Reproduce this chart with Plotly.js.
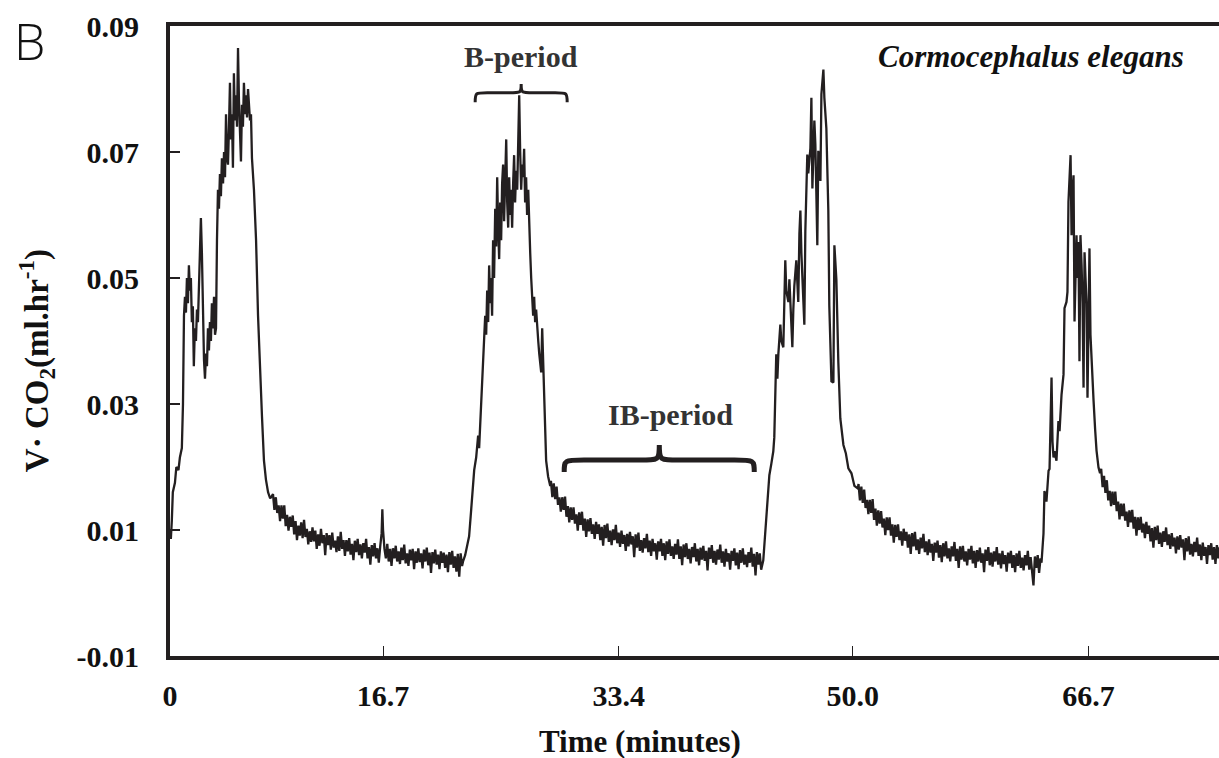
<!DOCTYPE html>
<html>
<head>
<meta charset="utf-8">
<script src="https://cdn.plot.ly/plotly-3.0.1.min.js"></script>
<style>
html,body{margin:0;padding:0;background:#fff;}
#chart{width:1219px;height:758px;}
</style>
</head>
<body>
<div id="chart"></div>
<script>
// ---- Data (time in minutes, VCO2 in ml/hr) ----
// Burst 1
const t_burst1 = [1.60,1.66,1.73,1.80,1.95,2.05,2.20,2.30,2.44,2.52,2.59,2.66,2.73,2.80,2.87,2.94,3.01,3.08,3.15,3.22,3.29,3.36,3.44,3.51,3.58,3.65,3.72,3.79,3.86,3.93,4.01,4.08,4.15,4.22,4.29,4.36,4.43,4.50,4.57,4.64,4.72,4.79,4.86,4.93,5.00,5.07,5.14,5.21,5.28,5.36,5.43,5.50,5.57,5.64,5.71,5.78,5.85,5.92,5.99,6.06,6.13,6.20,6.28,6.35,6.42,6.49,6.56,6.63,6.70,6.77,6.84,6.92,6.99,7.06,7.13,7.20,7.27,7.34,7.41,7.55,7.70,7.84,7.98,8.12,8.26,8.40,8.55,8.70];
const v_burst1 = [0.0100,0.0086,0.0115,0.0160,0.0175,0.0200,0.0195,0.0215,0.0230,0.0300,0.0440,0.0470,0.0445,0.0500,0.0460,0.0520,0.0480,0.0500,0.0430,0.0455,0.0360,0.0420,0.0400,0.0450,0.0430,0.0480,0.0540,0.0595,0.0540,0.0430,0.0370,0.0340,0.0380,0.0360,0.0420,0.0385,0.0430,0.0400,0.0460,0.0420,0.0470,0.0410,0.0420,0.0560,0.0640,0.0610,0.0665,0.0630,0.0690,0.0650,0.0700,0.0660,0.0760,0.0690,0.0680,0.0740,0.0810,0.0720,0.0760,0.0675,0.0825,0.0750,0.0790,0.0740,0.0865,0.0780,0.0740,0.0685,0.0775,0.0740,0.0810,0.0760,0.0790,0.0755,0.0800,0.0770,0.0750,0.0760,0.0690,0.0640,0.0560,0.0440,0.0350,0.0280,0.0210,0.0180,0.0160,0.0150];
// Inter-burst 1
const t_inter1 = [8.9,9.0,9.1,9.2,9.3,9.4,9.5,9.6,9.7,9.8,9.9,10.0,10.1,10.2,10.3,10.4,10.5,10.6,10.7,10.8,10.9,11.0,11.1,11.2,11.3,11.4,11.5,11.6,11.7,11.8,11.9,12.0,12.1,12.2,12.3,12.4,12.5,12.6,12.7,12.8,12.9,13.0,13.1,13.2,13.3,13.4,13.5,13.6,13.7,13.8,13.9,14.0,14.1,14.2,14.3,14.4,14.5,14.6,14.7,14.8,14.9,15.0,15.1,15.2,15.3,15.4,15.5,15.6,15.7,15.8,15.9,16.0,16.1,16.2,16.3,16.4,16.5,16.6,16.65,16.7,16.8,16.9,17.0,17.1,17.2,17.3,17.4,17.5,17.6,17.7,17.8,17.9,18.0,18.1,18.2,18.3,18.4,18.5,18.6,18.7,18.8,18.9,19.0,19.1,19.2,19.3,19.4,19.5,19.6,19.7,19.8,19.9,20.0,20.1,20.2,20.3,20.4,20.5,20.6,20.7,20.8,20.9,21.0,21.1,21.2,21.3,21.4,21.5,21.6,21.7,21.8,21.9,22.0,22.1,22.2,22.3];
const v_inter1 = [0.0157,0.0132,0.0152,0.0127,0.0139,0.0114,0.0139,0.0118,0.0139,0.0106,0.0124,0.0099,0.0121,0.0105,0.0123,0.0093,0.0114,0.0084,0.0107,0.0091,0.0112,0.0087,0.0116,0.0089,0.0102,0.0077,0.0098,0.0081,0.0104,0.0082,0.0099,0.0070,0.0093,0.0075,0.0102,0.0079,0.0092,0.0060,0.0095,0.0076,0.0092,0.0069,0.0096,0.0072,0.0083,0.0065,0.0090,0.0067,0.0097,0.0070,0.0084,0.0059,0.0084,0.0066,0.0087,0.0061,0.0078,0.0052,0.0083,0.0065,0.0086,0.0060,0.0077,0.0055,0.0079,0.0064,0.0086,0.0055,0.0073,0.0045,0.0076,0.0058,0.0079,0.0055,0.0071,0.0048,0.0074,0.0095,0.0133,0.0100,0.0070,0.0055,0.0078,0.0050,0.0070,0.0043,0.0071,0.0055,0.0075,0.0050,0.0066,0.0046,0.0072,0.0052,0.0077,0.0047,0.0063,0.0043,0.0069,0.0052,0.0070,0.0038,0.0066,0.0048,0.0071,0.0049,0.0063,0.0039,0.0069,0.0050,0.0072,0.0044,0.0064,0.0032,0.0065,0.0047,0.0069,0.0045,0.0061,0.0038,0.0066,0.0048,0.0064,0.0040,0.0061,0.0033,0.0065,0.0045,0.0067,0.0040,0.0058,0.0034,0.0062,0.0026,0.0063,0.0043];
// Burst 2
const t_burst2 = [22.37,22.52,22.66,22.80,22.94,23.09,23.16,23.30,23.44,23.51,23.65,23.79,23.94,24.01,24.08,24.15,24.22,24.29,24.36,24.43,24.50,24.57,24.65,24.72,24.79,24.86,24.93,25.00,25.07,25.14,25.21,25.28,25.35,25.43,25.50,25.57,25.64,25.71,25.78,25.85,25.92,25.99,26.06,26.13,26.21,26.28,26.35,26.42,26.49,26.56,26.63,26.70,26.77,26.84,26.91,26.99,27.06,27.13,27.20,27.27,27.34,27.41,27.48,27.55,27.62,27.70,27.77,27.84,27.91,27.98,28.05,28.12,28.19,28.26,28.40,28.55];
const v_burst2 = [0.0050,0.0060,0.0075,0.0090,0.0130,0.0170,0.0195,0.0215,0.0250,0.0230,0.0300,0.0380,0.0440,0.0410,0.0480,0.0430,0.0520,0.0460,0.0500,0.0440,0.0560,0.0500,0.0610,0.0550,0.0660,0.0580,0.0530,0.0620,0.0560,0.0650,0.0680,0.0590,0.0640,0.0720,0.0620,0.0580,0.0660,0.0600,0.0640,0.0580,0.0650,0.0695,0.0620,0.0670,0.0640,0.0720,0.0790,0.0700,0.0640,0.0680,0.0660,0.0705,0.0620,0.0660,0.0600,0.0640,0.0570,0.0540,0.0500,0.0470,0.0440,0.0470,0.0430,0.0450,0.0420,0.0400,0.0380,0.0360,0.0350,0.0420,0.0370,0.0300,0.0250,0.0210,0.0185,0.0170];
// Inter-burst 2
const t_inter2 = [28.6,28.7,28.8,28.9,29.0,29.1,29.2,29.3,29.4,29.5,29.6,29.7,29.8,29.9,30.0,30.1,30.2,30.3,30.4,30.5,30.6,30.7,30.8,30.9,31.0,31.1,31.2,31.3,31.4,31.5,31.6,31.7,31.8,31.9,32.0,32.1,32.2,32.3,32.4,32.5,32.6,32.7,32.8,32.9,33.0,33.1,33.2,33.3,33.4,33.5,33.6,33.7,33.8,33.9,34.0,34.1,34.2,34.3,34.4,34.5,34.6,34.7,34.8,34.9,35.0,35.1,35.2,35.3,35.4,35.5,35.6,35.7,35.8,35.9,36.0,36.1,36.2,36.3,36.4,36.5,36.6,36.7,36.8,36.9,37.0,37.1,37.2,37.3,37.4,37.5,37.6,37.7,37.8,37.9,38.0,38.1,38.2,38.3,38.4,38.5,38.6,38.7,38.8,38.9,39.0,39.1,39.2,39.3,39.4,39.5,39.6,39.7,39.8,39.9,40.0,40.1,40.2,40.3,40.4,40.5,40.6,40.7,40.8,40.9,41.0,41.1,41.2,41.3,41.4,41.5,41.6,41.7,41.8,41.9,42.0,42.1,42.2,42.3,42.4,42.5,42.6,42.7,42.8,42.9,43.0,43.1,43.2,43.3,43.4,43.5];
const v_inter2 = [0.0178,0.0152,0.0174,0.0149,0.0169,0.0140,0.0152,0.0129,0.0152,0.0132,0.0153,0.0121,0.0138,0.0112,0.0136,0.0116,0.0136,0.0110,0.0125,0.0099,0.0128,0.0108,0.0129,0.0099,0.0118,0.0089,0.0117,0.0098,0.0119,0.0094,0.0109,0.0086,0.0113,0.0094,0.0109,0.0084,0.0105,0.0075,0.0108,0.0087,0.0110,0.0081,0.0099,0.0076,0.0101,0.0084,0.0108,0.0079,0.0096,0.0073,0.0099,0.0078,0.0092,0.0067,0.0094,0.0074,0.0097,0.0077,0.0090,0.0057,0.0093,0.0072,0.0096,0.0067,0.0084,0.0064,0.0087,0.0071,0.0094,0.0065,0.0083,0.0059,0.0086,0.0066,0.0079,0.0053,0.0082,0.0066,0.0086,0.0059,0.0079,0.0052,0.0082,0.0062,0.0085,0.0059,0.0074,0.0054,0.0078,0.0061,0.0085,0.0054,0.0074,0.0044,0.0077,0.0057,0.0079,0.0054,0.0070,0.0047,0.0073,0.0057,0.0079,0.0050,0.0070,0.0044,0.0072,0.0053,0.0075,0.0051,0.0067,0.0036,0.0072,0.0054,0.0076,0.0048,0.0067,0.0045,0.0069,0.0053,0.0077,0.0048,0.0066,0.0042,0.0070,0.0050,0.0063,0.0037,0.0067,0.0051,0.0071,0.0044,0.0064,0.0038,0.0068,0.0048,0.0071,0.0045,0.0061,0.0041,0.0065,0.0048,0.0072,0.0042,0.0062,0.0028,0.0065,0.0045,0.0063,0.0037];
// Burst 3
const t_burst3 = [43.65,43.87,44.08,44.22,44.36,44.43,44.50,44.57,44.65,44.72,44.86,44.93,45.07,45.14,45.21,45.28,45.43,45.50,45.57,45.71,45.78,45.85,45.99,46.13,46.21,46.28,46.35,46.42,46.56,46.63,46.77,46.84,46.99,47.06,47.13,47.27,47.34,47.41,47.48,47.55,47.70,47.77,47.91,47.98,48.12,48.26,48.33,48.48,48.62,48.69,48.83,48.97,49.11,49.33,49.50,49.68,49.90,50.11,50.35];
const v_burst3 = [0.0052,0.0128,0.0187,0.0205,0.0225,0.0247,0.0330,0.0379,0.0340,0.0380,0.0426,0.0400,0.0390,0.0450,0.0528,0.0480,0.0462,0.0498,0.0450,0.0390,0.0450,0.0487,0.0528,0.0462,0.0570,0.0607,0.0540,0.0498,0.0426,0.0574,0.0696,0.0666,0.0706,0.0786,0.0642,0.0750,0.0713,0.0636,0.0552,0.0702,0.0654,0.0792,0.0831,0.0786,0.0738,0.0607,0.0456,0.0336,0.0334,0.0552,0.0498,0.0366,0.0277,0.0235,0.0222,0.0198,0.0190,0.0170,0.0166];
// Inter-burst 3
const t_inter3 = [50.4,50.5,50.6,50.7,50.8,50.9,51.0,51.1,51.2,51.3,51.4,51.5,51.6,51.7,51.8,51.9,52.0,52.1,52.2,52.3,52.4,52.5,52.6,52.7,52.8,52.9,53.0,53.1,53.2,53.3,53.4,53.5,53.6,53.7,53.8,53.9,54.0,54.1,54.2,54.3,54.4,54.5,54.6,54.7,54.8,54.9,55.0,55.1,55.2,55.3,55.4,55.5,55.6,55.7,55.8,55.9,56.0,56.1,56.2,56.3,56.4,56.5,56.6,56.7,56.8,56.9,57.0,57.1,57.2,57.3,57.4,57.5,57.6,57.7,57.8,57.9,58.0,58.1,58.2,58.3,58.4,58.5,58.6,58.7,58.8,58.9,59.0,59.1,59.2,59.3,59.4,59.5,59.6,59.7,59.8,59.9,60.0,60.1,60.2,60.3,60.4,60.5,60.6,60.7,60.8,60.9,61.0,61.1,61.2,61.3,61.4,61.5,61.6,61.7,61.8,61.9,62.0,62.1,62.2,62.3,62.4,62.5,62.6,62.7,62.8,62.9,63.0,63.1,63.2,63.3];
const v_inter3 = [0.0173,0.0147,0.0169,0.0143,0.0164,0.0135,0.0148,0.0125,0.0148,0.0127,0.0149,0.0116,0.0134,0.0107,0.0131,0.0110,0.0130,0.0104,0.0118,0.0092,0.0120,0.0100,0.0120,0.0091,0.0109,0.0080,0.0108,0.0089,0.0109,0.0084,0.0098,0.0075,0.0102,0.0083,0.0097,0.0072,0.0093,0.0062,0.0095,0.0074,0.0097,0.0068,0.0085,0.0062,0.0088,0.0071,0.0094,0.0065,0.0082,0.0060,0.0085,0.0064,0.0078,0.0051,0.0080,0.0064,0.0083,0.0056,0.0076,0.0049,0.0079,0.0058,0.0082,0.0055,0.0071,0.0050,0.0074,0.0058,0.0081,0.0051,0.0070,0.0040,0.0074,0.0053,0.0075,0.0050,0.0066,0.0044,0.0070,0.0053,0.0075,0.0047,0.0067,0.0040,0.0068,0.0050,0.0072,0.0048,0.0063,0.0033,0.0069,0.0051,0.0073,0.0044,0.0064,0.0042,0.0066,0.0050,0.0073,0.0045,0.0063,0.0039,0.0067,0.0046,0.0060,0.0034,0.0064,0.0047,0.0067,0.0040,0.0060,0.0033,0.0063,0.0043,0.0067,0.0040,0.0056,0.0036,0.0060,0.0044,0.0067,0.0037,0.0057,0.0027,0.0012,0.0058,0.0040,0.0060,0.0032,0.0055];
// Burst 4
const t_burst4 = [63.37,63.51,63.58,63.72,63.87,63.94,64.08,64.15,64.22,64.29,64.43,64.57,64.65,64.79,64.93,65.00,65.14,65.21,65.28,65.43,65.50,65.57,65.64,65.71,65.78,65.85,65.92,65.99,66.06,66.13,66.21,66.28,66.35,66.42,66.49,66.56,66.63,66.70,66.77,66.84,66.92,67.06,67.17,67.27,67.41,67.52];
const v_burst4 = [0.0048,0.0094,0.0162,0.0145,0.0194,0.0197,0.0342,0.0240,0.0215,0.0225,0.0210,0.0273,0.0257,0.0315,0.0347,0.0452,0.0462,0.0478,0.0621,0.0695,0.0568,0.0640,0.0663,0.0431,0.0520,0.0568,0.0500,0.0557,0.0368,0.0568,0.0520,0.0460,0.0326,0.0541,0.0500,0.0460,0.0310,0.0470,0.0547,0.0410,0.0360,0.0305,0.0260,0.0226,0.0199,0.0190];
// Inter-burst 4
const t_inter4 = [67.6,67.7,67.8,67.9,68.0,68.1,68.2,68.3,68.4,68.5,68.6,68.7,68.8,68.9,69.0,69.1,69.2,69.3,69.4,69.5,69.6,69.7,69.8,69.9,70.0,70.1,70.2,70.3,70.4,70.5,70.6,70.7,70.8,70.9,71.0,71.1,71.2,71.3,71.4,71.5,71.6,71.7,71.8,71.9,72.0,72.1,72.2,72.3,72.4,72.5,72.6,72.7,72.8,72.9,73.0,73.1,73.2,73.3,73.4,73.5,73.6,73.7,73.8,73.9,74.0,74.1,74.2,74.3,74.4,74.5,74.6,74.7,74.8,74.9,75.0,75.1,75.2,75.3,75.4,75.5,75.6,75.7,75.8,75.9,76.0];
const v_inter4 = [0.0197,0.0168,0.0186,0.0159,0.0179,0.0147,0.0162,0.0138,0.0161,0.0140,0.0161,0.0130,0.0145,0.0117,0.0142,0.0122,0.0142,0.0115,0.0129,0.0105,0.0131,0.0112,0.0132,0.0102,0.0121,0.0091,0.0120,0.0100,0.0121,0.0096,0.0110,0.0087,0.0113,0.0094,0.0107,0.0082,0.0103,0.0072,0.0105,0.0084,0.0107,0.0078,0.0096,0.0073,0.0098,0.0081,0.0104,0.0076,0.0093,0.0070,0.0095,0.0074,0.0088,0.0063,0.0090,0.0069,0.0092,0.0072,0.0085,0.0052,0.0087,0.0066,0.0090,0.0061,0.0078,0.0058,0.0081,0.0065,0.0088,0.0059,0.0077,0.0052,0.0080,0.0059,0.0073,0.0046,0.0076,0.0060,0.0079,0.0053,0.0073,0.0046,0.0076,0.0055,0.0073];

// Tick labels
const xTickVals = [1.6, 16.7, 33.4, 50.0, 66.7];
const xTickText = ['0', '16.7', '33.4', '50.0', '66.7'];
const yTickVals = [-0.01, 0.01, 0.03, 0.05, 0.07, 0.09];
const yTickText = ['-0.01', '0.01', '0.03', '0.05', '0.07', '0.09'];

// Period annotations
const bPeriod = {label: 'B-period', start: 23.23, end: 29.75, mid: 26.49};
const ibPeriod = {label: 'IB-period', start: 29.54, end: 43.01, mid: 36.28};

// ---- Build ----
const time = [].concat(t_burst1, t_inter1, t_burst2, t_inter2, t_burst3, t_inter3, t_burst4, t_inter4);
const vco2 = [].concat(v_burst1, v_inter1, v_burst2, v_inter2, v_burst3, v_inter3, v_burst4, v_inter4);

const ink = '#231f20';
const serif = '"Liberation Serif", "Times New Roman", Times, serif';

function bracePath(x0, x1, xm, yTip, yBar, yCusp, q) {
  return 'M' + x0 + ',' + yTip +
    ' C' + x0 + ',' + yBar + ' ' + x0 + ',' + yBar + ' ' + (x0 + q) + ',' + yBar +
    ' L' + (xm - q) + ',' + yBar +
    ' C' + xm + ',' + yBar + ' ' + xm + ',' + yBar + ' ' + xm + ',' + yCusp +
    ' C' + xm + ',' + yBar + ' ' + xm + ',' + yBar + ' ' + (xm + q) + ',' + yBar +
    ' L' + (x1 - q) + ',' + yBar +
    ' C' + x1 + ',' + yBar + ' ' + x1 + ',' + yBar + ' ' + x1 + ',' + yTip;
}

const trace = {
  x: time, y: vco2, type: 'scatter', mode: 'lines',
  line: {color: ink, width: 2.3},
  hoverinfo: 'skip'
};

const layout = {
  width: 1219, height: 758,
  margin: {l: 170, r: 0, t: 26, b: 102, pad: 0},
  paper_bgcolor: '#ffffff', plot_bgcolor: '#ffffff',
  showlegend: false,
  font: {family: serif, color: '#111111', size: 30},
  xaxis: {
    range: [1.6, 75.95], tickmode: 'array', tickvals: xTickVals, ticktext: xTickText,
    ticks: 'inside', ticklen: 10, tickwidth: 1, tickcolor: ink,
    showline: true, linewidth: 4, linecolor: ink, mirror: true,
    showgrid: false, zeroline: false,
    tickfont: {family: serif, size: 30, weight: 'bold', color: '#111111'},
    ticklabelstandoff: 10
  },
  yaxis: {
    range: [-0.01, 0.09], tickmode: 'array', tickvals: yTickVals, ticktext: yTickText,
    ticks: 'inside', ticklen: 10, tickwidth: 1.5, tickcolor: ink,
    showline: true, linewidth: 4, linecolor: ink,
    showgrid: false, zeroline: false,
    tickfont: {family: serif, size: 30, weight: 'bold', color: '#111111'},
    ticklabelstandoff: 21
  },
  shapes: [
    {type: 'path', xref: 'x', yref: 'y',
     path: bracePath(bPeriod.start, bPeriod.end, bPeriod.mid, 0.0779, 0.0794, 0.0808, 0.85),
     line: {color: ink, width: 3}},
    {type: 'path', xref: 'x', yref: 'y',
     path: bracePath(ibPeriod.start, ibPeriod.end, ibPeriod.mid, 0.0192, 0.0211, 0.0235, 1.4),
     line: {color: ink, width: 5}}
  ],
  annotations: [
    {text: 'Time (minutes)', xref: 'paper', yref: 'paper', x: 0.448, y: -0.1365,
     xanchor: 'center', yanchor: 'middle', showarrow: false,
     font: {family: serif, size: 31, weight: 'bold', color: '#111111'}},
    {text: 'V\u00b7 CO<sub>2</sub>(ml.hr<sup>-1</sup>)', xref: 'paper', yref: 'paper',
     x: -0.1277, y: 0.468, textangle: -90, xanchor: 'center', yanchor: 'middle', showarrow: false,
     font: {family: serif, size: 33, weight: 'bold', color: '#111111'}},
    {text: 'B', xref: 'paper', yref: 'paper', x: -0.1335, y: 1.033,
     xanchor: 'center', yanchor: 'top', showarrow: false,
     font: {family: '"Liberation Sans Narrow", "Open Sans", sans-serif', size: 50, weight: 300, color: '#111111'}},
    {text: 'Cormocephalus elegans', xref: 'paper', yref: 'paper', x: 0.9686, y: 0.951,
     xanchor: 'right', yanchor: 'middle', showarrow: false,
     font: {family: serif, size: 31, weight: 'bold', style: 'italic', color: '#111111'}},
    {text: bPeriod.label, xref: 'x', yref: 'y', x: bPeriod.mid, y: 0.0851,
     xanchor: 'center', yanchor: 'middle', showarrow: false,
     font: {family: serif, size: 30, weight: 'bold', color: '#333333'}},
    {text: ibPeriod.label, xref: 'x', yref: 'y', x: 37.06, y: 0.0283,
     xanchor: 'center', yanchor: 'middle', showarrow: false,
     font: {family: serif, size: 30, weight: 'bold', color: '#333333'}}
  ]
};

Plotly.newPlot('chart', [trace], layout, {staticPlot: true, displayModeBar: false});
</script>
</body>
</html>
